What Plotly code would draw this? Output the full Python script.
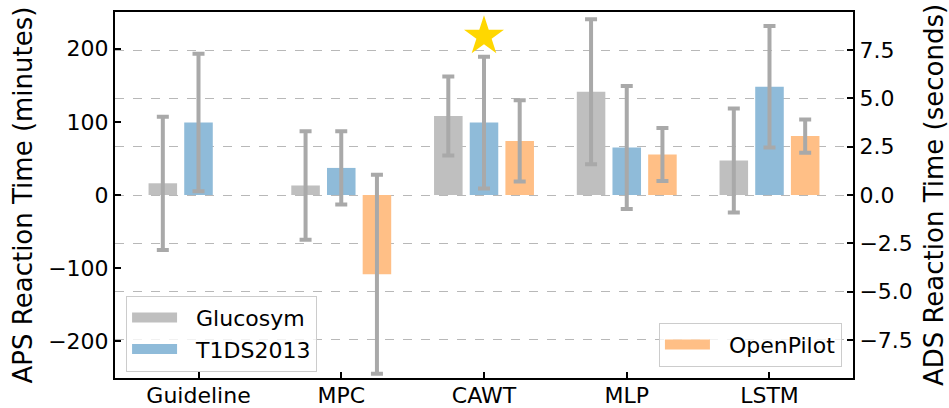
import plotly.graph_objects as go

# ---- data ----
categories = ["Guideline", "MPC", "CAWT", "MLP", "LSTM"]
glucosym_mean = [16, 13, 108, 141, 47]
glucosym_err = [91, 74, 54, 99, 71]
t1ds_mean = [99, 37, 99, 65, 148]
t1ds_err = [94, 50, 90, 84, 83]
openpilot_mean = [None, -4.1, 2.8, 2.1, 3.05]   # seconds (right axis)
openpilot_err = [None, 5.15, 2.1, 1.37, 0.86]
series_names = ["Glucosym", "T1DS2013", "OpenPilot"]
star_category = "CAWT"
star_value = 217

left_ticks = [-200, -100, 0, 100, 200]
right_ticks = [-7.5, -5.0, -2.5, 0.0, 2.5, 5.0, 7.5]

# ---- style ----
FONT = "DejaVu Sans"
C_GLU = "#bfbfbf"
C_T1D = "#8fbbd9"
C_OP = "#ffbf86"
C_ERR = "#a9a9a9"
BAR_W = 0.2
OFF = 0.25
PAD = "\u00a0\u00a0"

idx = list(range(len(categories)))

def err(arr):
    return dict(type="data", array=arr, visible=True, color=C_ERR,
                thickness=4, width=6)

series = [
    (series_names[0], [i - OFF for i in idx], glucosym_mean, glucosym_err, C_GLU, "y", "legend"),
    (series_names[1], [i for i in idx], t1ds_mean, t1ds_err, C_T1D, "y", "legend"),
    (series_names[2], [i + OFF for i in idx], openpilot_mean, openpilot_err, C_OP, "y2", "legend2"),
]

fig = go.Figure()
for name, xs, ys, es, col, ax, leg in series:
    fig.add_trace(go.Bar(
        x=xs, y=ys, width=BAR_W, name=name,
        marker=dict(color=col, line=dict(width=0)), error_y=err(es),
        yaxis=ax, showlegend=False))
# legend swatches (wide patches like the reference)
for name, xs, ys, es, col, ax, leg in series:
    fig.add_trace(go.Scatter(
        x=[None], y=[None], mode="lines", name=PAD + name,
        line=dict(color=col, width=16), yaxis=ax, legend=leg,
        showlegend=True, hoverinfo="skip"))

fig.add_trace(go.Scatter(
    x=[categories.index(star_category)], y=[star_value], mode="markers",
    marker=dict(symbol="star", size=30, color="#ffd700", line=dict(width=0)),
    showlegend=False, yaxis="y"))

axis_font = dict(family=FONT, size=22, color="black")
title_font = dict(family=FONT, size=26, color="black")

fig.update_layout(
    width=949, height=408,
    margin=dict(l=115, r=96, t=12, b=30),
    paper_bgcolor="white", plot_bgcolor="white",
    barmode="overlay",
    font=dict(family=FONT, color="black"),
    xaxis=dict(
        range=[-0.585, 4.585], tickmode="array", tickvals=idx,
        ticktext=categories, ticks="inside", ticklen=6, tickwidth=1.5,
        tickcolor="black", showline=True, linecolor="black", linewidth=2,
        mirror=True, showgrid=False, zeroline=False, tickfont=axis_font,
        ticklabelstandoff=-3, automargin=False),
    yaxis=dict(
        range=[-250, 250], tickmode="array", tickvals=left_ticks,
        ticks="inside", ticklen=6, tickwidth=1.5, tickcolor="black",
        showline=True, linecolor="black", linewidth=2, showgrid=False,
        zeroline=False, tickfont=axis_font, automargin=False,
        title=dict(text="APS Reaction Time (minutes)", font=title_font,
                   standoff=8)),
    yaxis2=dict(
        range=[-9.47, 9.47], overlaying="y", side="right", tickmode="array",
        tickvals=right_ticks, tickformat=".1f", ticks="inside", ticklen=6,
        tickwidth=1.5, tickcolor="black", showline=True, linecolor="black",
        linewidth=2, showgrid=True, gridcolor="#b8b8b8", gridwidth=1,
        griddash="dash", zeroline=False, tickfont=axis_font, automargin=False,
        title=dict(text="ADS Reaction Time (seconds)", font=title_font,
                   standoff=15)),
    legend=dict(
        x=0.015, y=0.225, xanchor="left", yanchor="top",
        bgcolor="rgba(255,255,255,0.8)", bordercolor="#cccccc", borderwidth=1,
        font=dict(family=FONT, size=22, color="black"), itemwidth=45),
    legend2=dict(
        x=0.985, y=0.031, xanchor="right", yanchor="bottom",
        bgcolor="rgba(255,255,255,0.8)", bordercolor="#cccccc", borderwidth=1,
        font=dict(family=FONT, size=22, color="black"), itemwidth=45),
)

fig.write_html("out.html")
